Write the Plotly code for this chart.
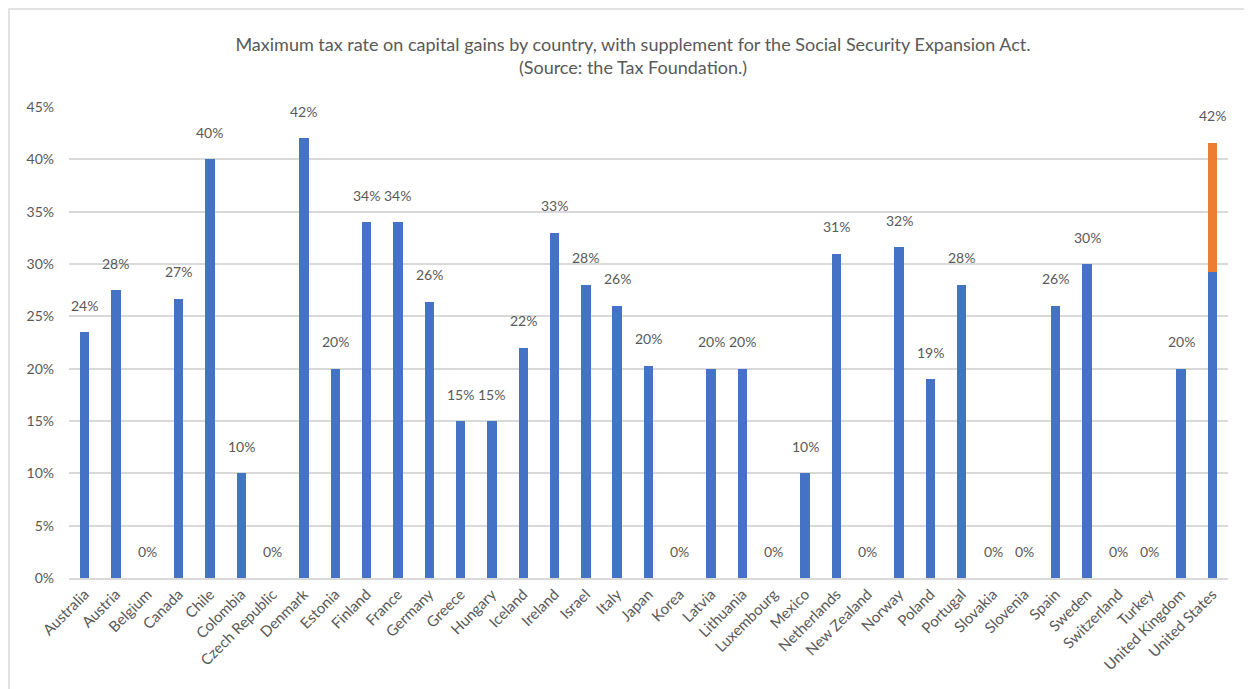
import plotly.graph_objects as go

countries = ["Australia", "Austria", "Belgium", "Canada", "Chile", "Colombia", "Czech Republic",
             "Denmark", "Estonia", "Finland", "France", "Germany", "Greece", "Hungary", "Iceland",
             "Ireland", "Israel", "Italy", "Japan", "Korea", "Latvia", "Lithuania", "Luxembourg",
             "Mexico", "Netherlands", "New Zealand", "Norway", "Poland", "Portugal", "Slovakia",
             "Slovenia", "Spain", "Sweden", "Switzerland", "Turkey", "United Kingdom", "United States"]
base_rates = [23.5, 27.5, 0, 26.7, 40, 10, 0,
              42, 20, 34, 34, 26.4, 15, 15, 22,
              33, 28, 26, 20.3, 0, 20, 20, 0,
              10, 31, 0, 31.6, 19, 28, 0,
              0, 26, 30, 0, 0, 20, 29.2]
supplement_countries = ["United States"]
supplement_rates = [12.4]

BLUE = "#4472C4"
ORANGE = "#ED7D31"
GREY_TEXT = "#595959"
GRID = "#D9D9D9"
FONT = "Lato"

W, H = 1244, 681
L, T, PW, PH = 61, 99, 1159, 471

fig = go.Figure()
fig.add_trace(go.Bar(x=countries, y=base_rates, marker=dict(color=BLUE, line=dict(width=0)),
                     name="Tax rate"))
fig.add_trace(go.Bar(x=supplement_countries, y=supplement_rates,
                     marker=dict(color=ORANGE, line=dict(width=0)), name="SSEA supplement"))

totals = list(base_rates)
for c, v in zip(supplement_countries, supplement_rates):
    totals[countries.index(c)] += v

annotations = []
for c, t in zip(countries, totals):
    annotations.append(dict(x=c, y=t, xref="x", yref="y", text=f"{int(t + 0.5)}%",
                            showarrow=False, yshift=27,
                            font=dict(family=FONT, size=14, color=GREY_TEXT)))

fig.update_layout(
    barmode="stack",
    bargap=0.7,
    width=W, height=H,
    margin=dict(l=L, r=W - L - PW, t=T, b=H - T - PH, autoexpand=False),
    paper_bgcolor="white",
    plot_bgcolor="white",
    showlegend=False,
    title=dict(text="Maximum tax rate on capital gains by country, with supplement for the Social Security Expansion Act.<br>(Source: the Tax Foundation.)",
               x=625 / W, xref="container", xanchor="center",
               y=1 - 43 / H, yref="container", yanchor="middle",
               font=dict(family=FONT, size=18, color=GREY_TEXT)),
    annotations=annotations,
    shapes=[dict(type="rect", xref="paper", yref="paper",
                 x0=(1 - L) / PW, x1=(1238 - L) / PW,
                 y0=(T + PH - 720) / PH, y1=(T + PH - 1) / PH,
                 line=dict(color=GRID, width=1.5), fillcolor="rgba(0,0,0,0)", layer="below")],
)
fig.update_xaxes(tickangle=-45, showgrid=False, showline=True, linecolor=GRID, linewidth=1.5,
                 tickfont=dict(family=FONT, size=15, color=GREY_TEXT), ticks="")
fig.update_yaxes(range=[0, 45], dtick=5, ticksuffix="%", showgrid=True, gridcolor=GRID,
                 gridwidth=1.5, zeroline=False, showline=False, ticklabelstandoff=14,
                 tickfont=dict(family=FONT, size=14, color=GREY_TEXT))

fig.write_html("out.html")
